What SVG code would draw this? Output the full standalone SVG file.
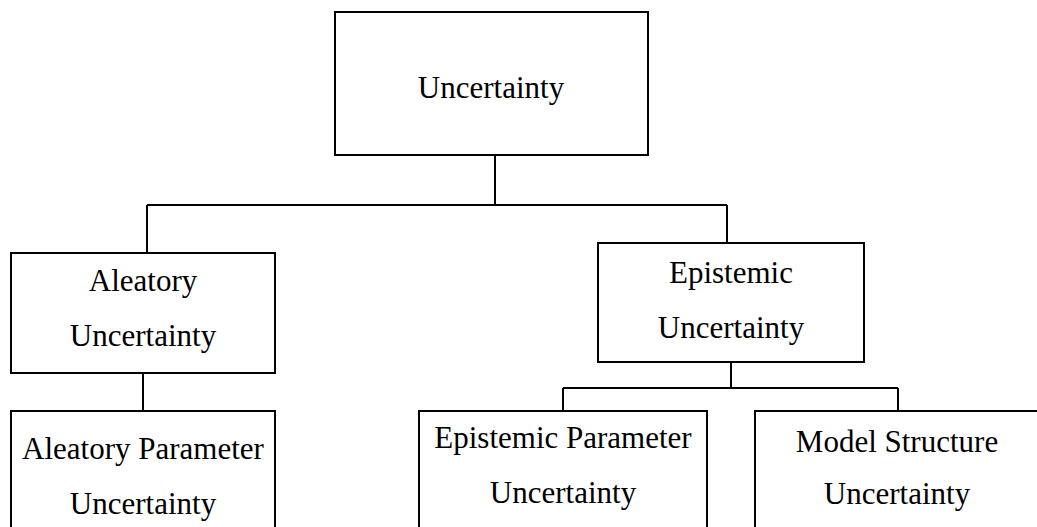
<svg xmlns="http://www.w3.org/2000/svg" width="1037" height="527" viewBox="0 0 1037 527">
<style>
.box{fill:#fff;stroke:#000;stroke-width:2}
.ln{fill:none;stroke:#000;stroke-width:2}
.t{font-family:"Liberation Serif","Times New Roman",serif;font-size:31px;fill:#000;text-anchor:middle}
</style>
<rect width="1037" height="527" fill="#fff"/>
<g id="connectors">
<path class="ln" d="M495 155V205M147 205H727M147 205V253M727 205V243M143 373V411M731 362V388M563 388H898M563 388V411M898 388V411"/>
</g>
<g id="uncertainty">
<rect class="box" x="335" y="12" width="313" height="143"/>
<text class="t" x="491" y="98">Uncertainty</text>
</g>
<g id="aleatory">
<rect class="box" x="11" y="253" width="264" height="120"/>
<text class="t" x="143" y="291">Aleatory</text>
<text class="t" x="143" y="346">Uncertainty</text>
</g>
<g id="epistemic">
<rect class="box" x="598" y="243" width="266" height="119"/>
<text class="t" x="731" y="283">Epistemic</text>
<text class="t" x="731" y="338">Uncertainty</text>
</g>
<g id="aleatory-parameter">
<rect class="box" x="11" y="411" width="264" height="130"/>
<text class="t" x="143" y="459">Aleatory Parameter</text>
<text class="t" x="143" y="514">Uncertainty</text>
</g>
<g id="epistemic-parameter">
<rect class="box" x="419" y="411" width="288" height="130"/>
<text class="t" x="563" y="448">Epistemic Parameter</text>
<text class="t" x="563" y="503">Uncertainty</text>
</g>
<g id="model-structure">
<rect class="box" x="755" y="411" width="300" height="130"/>
<text class="t" x="897" y="452">Model Structure</text>
<text class="t" x="897" y="504">Uncertainty</text>
</g>
</svg>
